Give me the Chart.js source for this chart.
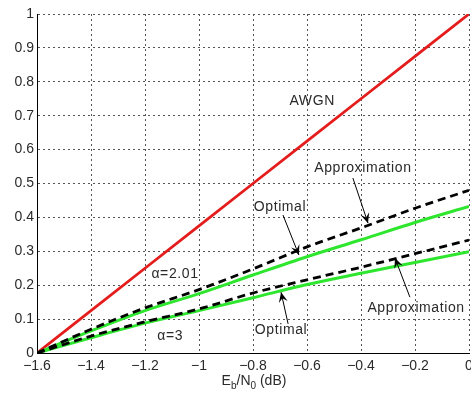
<!DOCTYPE html>
<html><head><meta charset="utf-8">
<script src="https://cdn.jsdelivr.net/npm/chart.js@4/dist/chart.umd.min.js"></script>
<style>html,body{margin:0;padding:0;background:#fff;}canvas{display:block}</style>
</head><body>
<canvas id="c" width="471" height="393"></canvas>
<script>
const ebn0 = [-1.6, -1.4, -1.2, -1.0, -0.8, -0.6, -0.4, -0.2, 0];
const awgn = [0, 0.125, 0.25, 0.375, 0.5, 0.625, 0.75, 0.875, 1];
const optimal201 = [0, 0.065, 0.125, 0.175, 0.23, 0.284, 0.334, 0.385, 0.432];
const approx201 = [0, 0.07, 0.133, 0.187, 0.248, 0.313, 0.369, 0.427, 0.48];
const optimal3 = [0, 0.045, 0.088, 0.125, 0.163, 0.202, 0.235, 0.267, 0.299];
const approx3 = [0, 0.05, 0.092, 0.13, 0.177, 0.216, 0.253, 0.293, 0.333];
const xTicks = [-1.6, -1.4, -1.2, -1, -0.8, -0.6, -0.4, -0.2, 0];
const yTicks = [0, 0.1, 0.2, 0.3, 0.4, 0.5, 0.6, 0.7, 0.8, 0.9, 1];

const labels = [
  {text: 'AWGN', x: -0.581, y: 0.743},
  {text: 'Approximation', x: -0.393, y: 0.546},
  {text: 'Optimal', x: -0.70, y: 0.431},
  {text: '\u03b1=2.01', x: -1.089, y: 0.232},
  {text: '\u03b1=3', x: -1.107, y: 0.049},
  {text: 'Optimal', x: -0.696, y: 0.068},
  {text: 'Approximation', x: -0.196, y: 0.133}
];
const arrows = [
  {x1: -0.430, y1: 0.516, x2: -0.374, y2: 0.383},
  {x1: -0.689, y1: 0.407, x2: -0.630, y2: 0.289},
  {x1: -0.670, y1: 0.086, x2: -0.696, y2: 0.179},
  {x1: -0.219, y1: 0.165, x2: -0.274, y2: 0.280}
];

const FONT = '"Liberation Sans", Arial, sans-serif';
const TXT = '#2a2a2a';
const pts = ys => ebn0.map((x, i) => ({x: x, y: ys[i]}));
const fmt = v => {
  if (Math.abs(v) < 1e-9) return '0';
  return String(+v.toFixed(1)).replace('-', '\u2212');
};

const annot = {
  id: 'annot',
  afterDatasetsDraw(chart) {
    const ctx = chart.ctx, xs = chart.scales.x, ys = chart.scales.y;
    ctx.save();
    ctx.fillStyle = TXT;
    ctx.font = '14px ' + FONT;
    ctx.letterSpacing = '0.6px';
    ctx.textAlign = 'center';
    ctx.textBaseline = 'middle';
    labels.forEach(l => ctx.fillText(l.text, xs.getPixelForValue(l.x), ys.getPixelForValue(l.y)));
    ctx.letterSpacing = '0px';
    ctx.strokeStyle = '#000';
    ctx.fillStyle = '#000';
    ctx.lineWidth = 1;
    arrows.forEach(a => {
      const px1 = xs.getPixelForValue(a.x1), py1 = ys.getPixelForValue(a.y1);
      const px2 = xs.getPixelForValue(a.x2), py2 = ys.getPixelForValue(a.y2);
      const ang = Math.atan2(py2 - py1, px2 - px1);
      const L = 10, W = 4.5;
      ctx.beginPath(); ctx.moveTo(px1, py1); ctx.lineTo(px2, py2); ctx.stroke();
      const bx = px2 - L * Math.cos(ang), by = py2 - L * Math.sin(ang);
      const nx = -Math.sin(ang), ny = Math.cos(ang);
      const mx = px2 - 0.6 * L * Math.cos(ang), my = py2 - 0.6 * L * Math.sin(ang);
      ctx.beginPath();
      ctx.moveTo(px2, py2);
      ctx.lineTo(bx + W * nx, by + W * ny);
      ctx.lineTo(mx, my);
      ctx.lineTo(bx - W * nx, by - W * ny);
      ctx.closePath();
      ctx.fill();
    });
    // x-axis title with subscripts
    const cx = 254;
    const base = 385;
    const parts = [
      {t: 'E', s: 14, dy: 0}, {t: 'b', s: 10, dy: 4}, {t: '/N', s: 14, dy: 0},
      {t: '0', s: 10, dy: 4}, {t: ' (dB)', s: 14, dy: 0}
    ];
    ctx.textAlign = 'left';
    ctx.textBaseline = 'alphabetic';
    ctx.fillStyle = TXT;
    let total = 0;
    parts.forEach(p => { ctx.font = p.s + 'px ' + FONT; p.w = ctx.measureText(p.t).width; total += p.w; });
    let x = cx - total / 2;
    parts.forEach(p => { ctx.font = p.s + 'px ' + FONT; ctx.fillText(p.t, x, base + p.dy); x += p.w; });
    ctx.restore();
  }
};

new Chart(document.getElementById('c'), {
  type: 'line',
  data: {
    datasets: [
      {label: 'Approximation \u03b1=2.01', data: pts(approx201), borderColor: '#000', borderWidth: 2.8, borderDash: [8, 5], order: 0},
      {label: 'Approximation \u03b1=3', data: pts(approx3), borderColor: '#000', borderWidth: 2.8, borderDash: [8, 5], order: 0},
      {label: 'Optimal \u03b1=2.01', data: pts(optimal201), borderColor: '#2fe62f', borderWidth: 3, order: 1},
      {label: 'Optimal \u03b1=3', data: pts(optimal3), borderColor: '#2fe62f', borderWidth: 3, order: 1},
      {label: 'AWGN', data: pts(awgn), borderColor: '#e41c1c', borderWidth: 2.8, order: 2}
    ]
  },
  options: {
    responsive: false,
    animation: false,
    devicePixelRatio: 1,
    layout: {padding: {top: 14, right: 2, left: 0, bottom: 0}},
    elements: {point: {radius: 0}, line: {cubicInterpolationMode: 'monotone', fill: false}},
    plugins: {legend: {display: false}, tooltip: {enabled: false}},
    scales: {
      x: {
        type: 'linear', min: -1.6, max: 0,
        afterBuildTicks: s => { s.ticks = xTicks.map(v => ({value: v})); },
        afterFit: s => { s.height = 40; s.paddingLeft = 0; s.paddingRight = 0; },
        ticks: {callback: v => fmt(v), font: {family: FONT, size: 14}, color: TXT, padding: 5, maxRotation: 0, autoSkip: false},
        grid: {color: '#555', lineWidth: 1, drawTicks: false},
        border: {display: true, color: '#000', width: 1, dash: [2, 3]}
      },
      y: {
        type: 'linear', min: 0, max: 1,
        afterBuildTicks: s => { s.ticks = yTicks.map(v => ({value: v})); },
        afterFit: s => { s.width = 37; },
        ticks: {callback: v => fmt(v), font: {family: FONT, size: 14}, color: TXT, padding: 3, autoSkip: false},
        grid: {color: '#555', lineWidth: 1, drawTicks: false},
        border: {display: true, color: '#000', width: 1, dash: [2, 3]}
      }
    }
  },
  plugins: [annot]
});
</script>
</body></html>
